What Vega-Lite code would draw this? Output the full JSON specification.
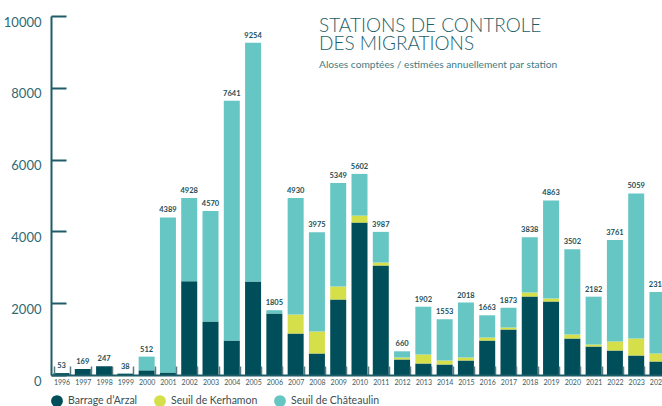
{
  "$schema": "https://vega.github.io/schema/vega-lite/v6.json",
  "width": 611,
  "height": 359,
  "autosize": {"type": "none"},
  "padding": {"left": 51, "top": 16, "right": 0, "bottom": 31},
  "background": "white",
  "config": {"view": {"stroke": null}, "font": "Lato"},
  "title": {
    "text": ["STATIONS DE CONTROLE", "DES MIGRATIONS"],
    "subtitle": "Aloses comptées / estimées annuellement par station",
    "anchor": "start",
    "frame": "group",
    "orient": "top",
    "dx": 268,
    "offset": -55,
    "font": "Lato",
    "fontSize": 19,
    "fontWeight": 300,
    "lineHeight": 18.3,
    "color": "#1d5e69",
    "subtitleFont": "Lato",
    "subtitleFontSize": 10.2,
    "subtitleColor": "#3f7c85",
    "subtitlePadding": 6
  },
  "datasets": {
    "segments": [
      {"year": 1996, "station": "Barrage d’Arzal", "rank": 1, "count": 53},
      {"year": 1997, "station": "Barrage d’Arzal", "rank": 1, "count": 169},
      {"year": 1998, "station": "Barrage d’Arzal", "rank": 1, "count": 247},
      {"year": 1999, "station": "Barrage d’Arzal", "rank": 1, "count": 38},
      {"year": 2000, "station": "Barrage d’Arzal", "rank": 1, "count": 130},
      {"year": 2000, "station": "Seuil de Châteaulin", "rank": 3, "count": 382},
      {"year": 2001, "station": "Barrage d’Arzal", "rank": 1, "count": 70},
      {"year": 2001, "station": "Seuil de Châteaulin", "rank": 3, "count": 4319},
      {"year": 2002, "station": "Barrage d’Arzal", "rank": 1, "count": 2611},
      {"year": 2002, "station": "Seuil de Châteaulin", "rank": 3, "count": 2317},
      {"year": 2003, "station": "Barrage d’Arzal", "rank": 1, "count": 1489},
      {"year": 2003, "station": "Seuil de Châteaulin", "rank": 3, "count": 3081},
      {"year": 2004, "station": "Barrage d’Arzal", "rank": 1, "count": 960},
      {"year": 2004, "station": "Seuil de Châteaulin", "rank": 3, "count": 6681},
      {"year": 2005, "station": "Barrage d’Arzal", "rank": 1, "count": 2603},
      {"year": 2005, "station": "Seuil de Châteaulin", "rank": 3, "count": 6651},
      {"year": 2006, "station": "Barrage d’Arzal", "rank": 1, "count": 1712},
      {"year": 2006, "station": "Seuil de Châteaulin", "rank": 3, "count": 93},
      {"year": 2007, "station": "Barrage d’Arzal", "rank": 1, "count": 1155},
      {"year": 2007, "station": "Seuil de Kerhamon", "rank": 2, "count": 529},
      {"year": 2007, "station": "Seuil de Châteaulin", "rank": 3, "count": 3246},
      {"year": 2008, "station": "Barrage d’Arzal", "rank": 1, "count": 599},
      {"year": 2008, "station": "Seuil de Kerhamon", "rank": 2, "count": 612},
      {"year": 2008, "station": "Seuil de Châteaulin", "rank": 3, "count": 2764},
      {"year": 2009, "station": "Barrage d’Arzal", "rank": 1, "count": 2102},
      {"year": 2009, "station": "Seuil de Kerhamon", "rank": 2, "count": 362},
      {"year": 2009, "station": "Seuil de Châteaulin", "rank": 3, "count": 2885},
      {"year": 2010, "station": "Barrage d’Arzal", "rank": 1, "count": 4246},
      {"year": 2010, "station": "Seuil de Kerhamon", "rank": 2, "count": 194},
      {"year": 2010, "station": "Seuil de Châteaulin", "rank": 3, "count": 1162},
      {"year": 2011, "station": "Barrage d’Arzal", "rank": 1, "count": 3048},
      {"year": 2011, "station": "Seuil de Kerhamon", "rank": 2, "count": 84},
      {"year": 2011, "station": "Seuil de Châteaulin", "rank": 3, "count": 855},
      {"year": 2012, "station": "Barrage d’Arzal", "rank": 1, "count": 432},
      {"year": 2012, "station": "Seuil de Kerhamon", "rank": 2, "count": 55},
      {"year": 2012, "station": "Seuil de Châteaulin", "rank": 3, "count": 173},
      {"year": 2013, "station": "Barrage d’Arzal", "rank": 1, "count": 320},
      {"year": 2013, "station": "Seuil de Kerhamon", "rank": 2, "count": 251},
      {"year": 2013, "station": "Seuil de Châteaulin", "rank": 3, "count": 1331},
      {"year": 2014, "station": "Barrage d’Arzal", "rank": 1, "count": 292},
      {"year": 2014, "station": "Seuil de Kerhamon", "rank": 2, "count": 112},
      {"year": 2014, "station": "Seuil de Châteaulin", "rank": 3, "count": 1149},
      {"year": 2015, "station": "Barrage d’Arzal", "rank": 1, "count": 404},
      {"year": 2015, "station": "Seuil de Kerhamon", "rank": 2, "count": 83},
      {"year": 2015, "station": "Seuil de Châteaulin", "rank": 3, "count": 1531},
      {"year": 2016, "station": "Barrage d’Arzal", "rank": 1, "count": 960},
      {"year": 2016, "station": "Seuil de Kerhamon", "rank": 2, "count": 84},
      {"year": 2016, "station": "Seuil de Châteaulin", "rank": 3, "count": 619},
      {"year": 2017, "station": "Barrage d’Arzal", "rank": 1, "count": 1267},
      {"year": 2017, "station": "Seuil de Kerhamon", "rank": 2, "count": 55},
      {"year": 2017, "station": "Seuil de Châteaulin", "rank": 3, "count": 551},
      {"year": 2018, "station": "Barrage d’Arzal", "rank": 1, "count": 2185},
      {"year": 2018, "station": "Seuil de Kerhamon", "rank": 2, "count": 112},
      {"year": 2018, "station": "Seuil de Châteaulin", "rank": 3, "count": 1541},
      {"year": 2019, "station": "Barrage d’Arzal", "rank": 1, "count": 2046},
      {"year": 2019, "station": "Seuil de Kerhamon", "rank": 2, "count": 84},
      {"year": 2019, "station": "Seuil de Châteaulin", "rank": 3, "count": 2733},
      {"year": 2020, "station": "Barrage d’Arzal", "rank": 1, "count": 1016},
      {"year": 2020, "station": "Seuil de Kerhamon", "rank": 2, "count": 112},
      {"year": 2020, "station": "Seuil de Châteaulin", "rank": 3, "count": 2374},
      {"year": 2021, "station": "Barrage d’Arzal", "rank": 1, "count": 793},
      {"year": 2021, "station": "Seuil de Kerhamon", "rank": 2, "count": 56},
      {"year": 2021, "station": "Seuil de Châteaulin", "rank": 3, "count": 1333},
      {"year": 2022, "station": "Barrage d’Arzal", "rank": 1, "count": 682},
      {"year": 2022, "station": "Seuil de Kerhamon", "rank": 2, "count": 251},
      {"year": 2022, "station": "Seuil de Châteaulin", "rank": 3, "count": 2828},
      {"year": 2023, "station": "Barrage d’Arzal", "rank": 1, "count": 543},
      {"year": 2023, "station": "Seuil de Kerhamon", "rank": 2, "count": 473},
      {"year": 2023, "station": "Seuil de Châteaulin", "rank": 3, "count": 4043},
      {"year": 2024, "station": "Barrage d’Arzal", "rank": 1, "count": 376},
      {"year": 2024, "station": "Seuil de Kerhamon", "rank": 2, "count": 223},
      {"year": 2024, "station": "Seuil de Châteaulin", "rank": 3, "count": 1715}
    ],
    "totals": [
      {"year": 1996, "total": 53}, {"year": 1997, "total": 169}, {"year": 1998, "total": 247},
      {"year": 1999, "total": 38}, {"year": 2000, "total": 512}, {"year": 2001, "total": 4389},
      {"year": 2002, "total": 4928}, {"year": 2003, "total": 4570}, {"year": 2004, "total": 7641},
      {"year": 2005, "total": 9254}, {"year": 2006, "total": 1805}, {"year": 2007, "total": 4930},
      {"year": 2008, "total": 3975}, {"year": 2009, "total": 5349}, {"year": 2010, "total": 5602},
      {"year": 2011, "total": 3987}, {"year": 2012, "total": 660}, {"year": 2013, "total": 1902},
      {"year": 2014, "total": 1553}, {"year": 2015, "total": 2018}, {"year": 2016, "total": 1663},
      {"year": 2017, "total": 1873}, {"year": 2018, "total": 3838}, {"year": 2019, "total": 4863},
      {"year": 2020, "total": 3502}, {"year": 2021, "total": 2182}, {"year": 2022, "total": 3761},
      {"year": 2023, "total": 5059}, {"year": 2024, "total": 2314}
    ]
  },
  "layer": [
    {
      "data": {"name": "segments"},
      "mark": {"type": "bar", "clip": true},
      "encoding": {
        "x": {
          "field": "year",
          "type": "ordinal",
          "scale": {"range": [0, 617], "paddingInner": 0.248, "paddingOuter": 0.118},
          "axis": {
            "title": null,
            "zindex": 1,
            "labelAngle": 0,
            "tickBand": "extent",
            "tickSize": -9,
            "tickColor": "#5a7b80",
            "tickWidth": 1.5,
            "domainColor": "#1f5d68",
            "domainWidth": 2,
            "labelFont": "Lato",
            "labelFontSize": 7,
            "labelFontWeight": "normal",
            "labelColor": "#3d5a60",
            "labelPadding": 12
          }
        },
        "y": {
          "field": "count",
          "type": "quantitative",
          "stack": "zero",
          "scale": {"domain": [0, 10000]},
          "axis": {
            "title": null,
            "zindex": 1,
            "values": [0, 2000, 4000, 6000, 8000, 10000],
            "format": "d",
            "grid": false,
            "domainColor": "#1f5d68",
            "domainWidth": 2,
            "tickColor": "#1f5d68",
            "tickWidth": 2,
            "tickSize": -15,
            "labelFont": "Lato",
            "labelFontSize": 13,
            "labelFontWeight": "normal",
            "labelColor": "#2f6a74",
            "labelPadding": 25,
            "labelOffset": 6
          }
        },
        "color": {
          "field": "station",
          "type": "nominal",
          "scale": {
            "domain": ["Barrage d’Arzal", "Seuil de Kerhamon", "Seuil de Châteaulin"],
            "range": ["#004e59", "#d4df4a", "#66c6c3"]
          },
          "legend": {
            "orient": "none",
            "legendX": 0,
            "legendY": 379,
            "direction": "horizontal",
            "columns": 3,
            "title": null,
            "symbolType": "circle",
            "symbolSize": 140,
            "symbolStrokeWidth": 0,
            "symbolOpacity": 1,
            "labelFont": "Lato",
            "labelFontSize": 10.5,
            "labelColor": "#3c4e52",
            "labelOffset": 5,
            "columnPadding": 16
          }
        },
        "order": {"field": "rank", "type": "quantitative"}
      }
    },
    {
      "data": {"name": "totals"},
      "mark": {"type": "text", "clip": true, "baseline": "bottom", "dy": -3, "font": "Lato", "fontSize": 7.5, "fontWeight": "bold", "color": "#1c4f58"},
      "encoding": {
        "x": {"field": "year", "type": "ordinal"},
        "y": {"field": "total", "type": "quantitative"},
        "text": {"field": "total", "type": "quantitative", "format": "d"}
      }
    }
  ]
}
